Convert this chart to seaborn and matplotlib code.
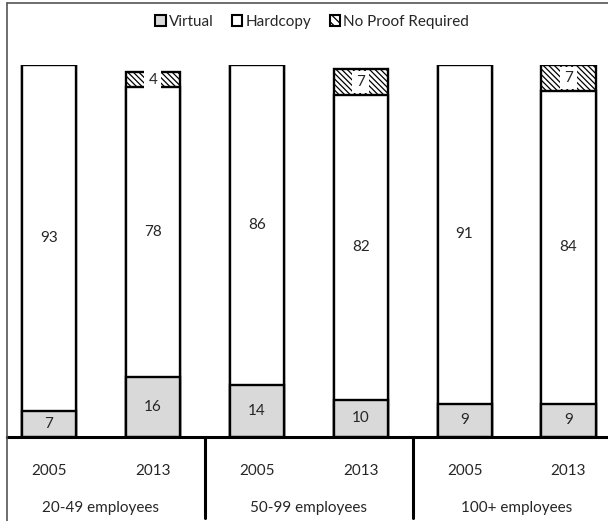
import matplotlib.pyplot as plt
import matplotlib as mpl
import numpy as np
import pandas as pd
import seaborn as sns
from matplotlib.patches import Patch
from matplotlib.lines import Line2D

sns.set_style("white")
plt.rcParams['font.family'] = ['Lato', 'DejaVu Sans']
mpl.rcParams['hatch.linewidth'] = 0.9

groups = ["20-49 employees", "50-99 employees", "100+ employees"]
years = ["2005", "2013", "2005", "2013", "2005", "2013"]
virtual = [7, 16, 14, 10, 9, 9]
hardcopy = [93, 78, 86, 82, 91, 84]
no_proof = [0, 4, 0, 7, 0, 7]

df = pd.DataFrame({"bar": [f"{g}|{y}" for g in groups for y in ["2005", "2013"]],
                   "virtual": virtual, "hardcopy": hardcopy, "no_proof": no_proof})
df["top2"] = df["virtual"] + df["hardcopy"]
df["top3"] = df["top2"] + df["no_proof"]
order = list(df["bar"])

fig = plt.figure(figsize=(6.08, 5.21), dpi=100)
ax = fig.add_axes([7/608, 84/521, 601/608, 372/521])

bw = 0.52
kw = dict(order=order, width=bw, edgecolor="black", linewidth=1.7, ax=ax)
sns.barplot(data=df, x="bar", y="top3", color="white", hatch="\\\\\\\\\\\\", **kw)
sns.barplot(data=df, x="bar", y="top2", color="white", **kw)
sns.barplot(data=df, x="bar", y="virtual", color="#d9d9d9", **kw)

ax.set_xlim(-0.404, 5.38)
ax.set_ylim(0, 100)
ax.set_xticks([]); ax.set_yticks([])
ax.set_xlabel(""); ax.set_ylabel("")
for s in ["top", "right", "left"]:
    ax.spines[s].set_visible(False)
ax.spines["bottom"].set_linewidth(2.2)
ax.spines["bottom"].set_color("black")

fs = 11
tc = "#262626"
for i in range(len(df)):
    v, h, n = virtual[i], hardcopy[i], no_proof[i]
    ax.text(i, v / 2, str(v), ha="center", va="center", fontsize=fs, color=tc)
    ax.text(i, v + h / 2, str(h), ha="center", va="center", fontsize=fs, color=tc)
    if n:
        ax.text(i, v + h + n / 2, str(n), ha="center", va="center", fontsize=fs, color=tc,
                bbox=dict(facecolor="white", edgecolor="none", pad=3))

tr = ax.get_xaxis_transform()
for i, y in enumerate(years):
    ax.text(i, -0.0914, y, transform=tr, ha="center", va="center", fontsize=fs, color=tc)
for j, g in enumerate(groups):
    ax.text(2 * j + 0.5, -0.191, g, transform=tr, ha="center", va="center", fontsize=fs, color=tc)
for xs in [1.5, 3.5]:
    ax.plot([xs, xs], [0, -0.218], transform=tr, color="black", lw=2.2, clip_on=False)

# outer frame (left and top only)
fig.add_artist(Line2D([7/608, 7/608], [0, 518/521], color="#555555", lw=1.2))
fig.add_artist(Line2D([7/608, 1], [518/521, 518/521], color="#555555", lw=1.2))

handles = [Patch(facecolor="#d9d9d9", edgecolor="black", linewidth=1.5, label="Virtual"),
           Patch(facecolor="white", edgecolor="black", linewidth=1.5, label="Hardcopy"),
           Patch(facecolor="white", edgecolor="black", linewidth=1.5, hatch="\\\\\\\\", label="No Proof Required")]
fig.legend(handles=handles, loc="center", bbox_to_anchor=(312/608, 1 - 22/521), ncol=3, frameon=False,
           handlelength=0.7, handleheight=0.7, handletextpad=0.2, columnspacing=1.2, fontsize=fs)

plt.savefig("out.png", dpi=100)
